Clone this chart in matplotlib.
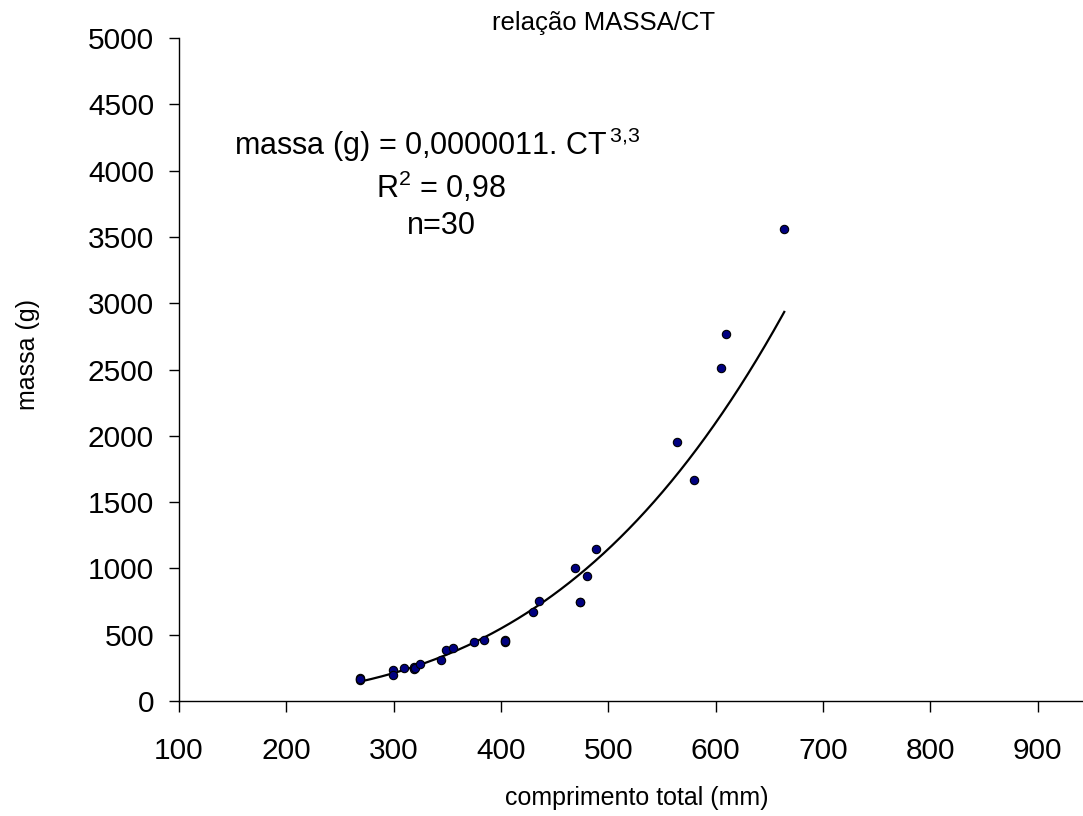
import numpy as np
import matplotlib
matplotlib.use("Agg")
import matplotlib.pyplot as plt

plt.rcParams['font.family'] = ['Liberation Sans', 'DejaVu Sans']
plt.rcParams['mathtext.fontset'] = 'custom'
plt.rcParams['mathtext.rm'] = 'Liberation Sans'
plt.rcParams['mathtext.it'] = 'Liberation Sans'

# comprimento total (mm) e massa (g)
comprimento = [269, 269, 269, 299, 299, 310, 319, 319, 320, 325,
               344, 349, 355, 375, 384, 404, 404, 404, 430, 435,
               469, 474, 474, 480, 489, 564, 580, 605, 610, 664]
massa = [175, 160, 168, 235, 200, 248, 260, 242, 250, 278,
         307, 382, 397, 445, 458, 460, 445, 452, 668, 757,
         1000, 744, 750, 940, 1150, 1950, 1665, 2510, 2765, 3562]

x_ticks = [100, 200, 300, 400, 500, 600, 700, 800, 900]
y_ticks = [0, 500, 1000, 1500, 2000, 2500, 3000, 3500, 4000, 4500, 5000]

# potencia ajustada (regressao log-log, como a linha de tendencia do Excel)
b, log_a = np.polyfit(np.log(comprimento), np.log(massa), 1)
x_fit = np.linspace(min(comprimento), max(comprimento), 200)
y_fit = np.exp(log_a) * x_fit ** b

fig = plt.figure(figsize=(10.83, 8.16), dpi=100)
ax = fig.add_axes([0.1653, 0.1409, 0.8347, 0.8125])

ax.plot(x_fit, y_fit, color='black', linewidth=1.6, zorder=2)
ax.scatter(comprimento, massa, s=36, color='#000080', edgecolor='black',
           linewidth=0.8, zorder=3)

ax.set_xlim(100, 942.4)
ax.set_ylim(0, 5000)
ax.set_xticks(x_ticks)
ax.set_yticks(y_ticks)

for side in ['top', 'right']:
    ax.spines[side].set_visible(False)
for side in ['left', 'bottom']:
    ax.spines[side].set_linewidth(1.0)

ax.tick_params(axis='x', direction='out', length=8, width=1, pad=18, labelsize=21.5)
ax.tick_params(axis='y', direction='out', length=7, width=1, pad=11, labelsize=21.5)

ax.set_xlabel('comprimento total (mm)', fontsize=18)
ax.set_ylabel('massa (g)', fontsize=18)
ax.xaxis.set_label_coords(0.506, -0.128)
ax.yaxis.set_label_coords(-0.154, 0.523)

fig.text(0.557, 0.972, 'relação MASSA/CT', fontsize=18.5, ha='center', va='center')

fig.text(0.404, 0.822, r'massa (g) = 0,0000011. CT$^{\,3{,}3}$', fontsize=22,
         ha='center', va='center')
fig.text(0.407, 0.770, r'R$^{2}$ = 0,98', fontsize=22, ha='center', va='center')
fig.text(0.408, 0.723, 'n=30', fontsize=22, ha='center', va='center')

fig.savefig('out.png', dpi=100)
